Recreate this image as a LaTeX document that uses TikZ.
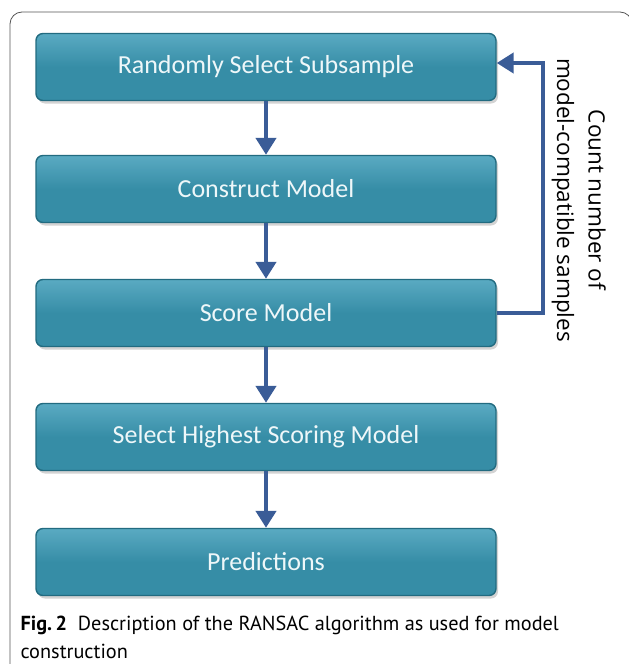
\documentclass[tikz,border=0pt]{standalone}
\usepackage{fontspec}
\setmainfont{Carlito}
\newfontfamily\rotfont{Open Sans}
\newfontfamily\capfont{PT Sans}
\usetikzlibrary{shadows,arrows.meta}
\definecolor{boxteal}{HTML}{368DA6}
\definecolor{boxedge}{HTML}{226B80}
\definecolor{boxtop}{HTML}{5AAAC2}
\definecolor{arrowblue}{HTML}{3A5C97}
\definecolor{framegray}{HTML}{555555}
\definecolor{boxtext}{HTML}{EEF7F9}
\tikzset{
  stepbox/.style={draw=boxedge, line width=1.4pt, rounded corners=7pt,
    top color=boxtop, bottom color=boxteal, middle color=boxteal,
    minimum width=460pt, minimum height=67pt,
    drop shadow={shadow xshift=2pt, shadow yshift=-3pt, opacity=0.35},
    text=boxtext, font=\fontsize{26}{30}\selectfont},
  flow/.style={draw=arrowblue, line width=4.5pt,
    -{Triangle[width=20pt,length=17pt]}},
}
\begin{document}
\begin{tikzpicture}[x=1pt,y=-1pt]
\useasboundingbox (0,0) rectangle (629,664);
\begin{scope}
\clip (0,0) rectangle (629,664);
\draw[framegray, line width=0.8pt, rounded corners=12pt] (10,700) -- (10,12) -- (632,12) -- (632,700);
\end{scope}
\node[stepbox] (s1) at (266,67) {Randomly Select Subsample};
\node[stepbox] (s2) at (266,189) {Construct Model};
\node[stepbox] (s3) at (266,313) {Score Model};
\node[stepbox] (s4) at (266,437) {Select Highest Scoring Model};
\node[stepbox] (s5) at (266,562) {Predictions};
\draw[flow] (s1) -- (s2);
\draw[flow] (s2) -- (s3);
\draw[flow] (s3) -- (s4);
\draw[flow] (s4) -- (s5);
\coordinate (c1) at (543,313);
\coordinate (c2) at (543,63);
\draw[flow] (s3.east |- c1) -- (c1) -- (c2) -- (s1.east |- c2);
\node[rotate=-90, font=\rotfont\fontsize{22.5}{26}\selectfont] (t1) at (597,200) {Count number of};
\node[rotate=-90, font=\rotfont\fontsize{22.5}{26}\selectfont] (t2) at (563,200) {model-compatible samples};
\node[anchor=west, font=\capfont\fontsize{20.3}{28}\selectfont, align=left] (cap) at (17,637) {\textbf{Fig.\,2}\ \ Description of the RANSAC algorithm as used for model\\construction};
\end{tikzpicture}
\end{document}
